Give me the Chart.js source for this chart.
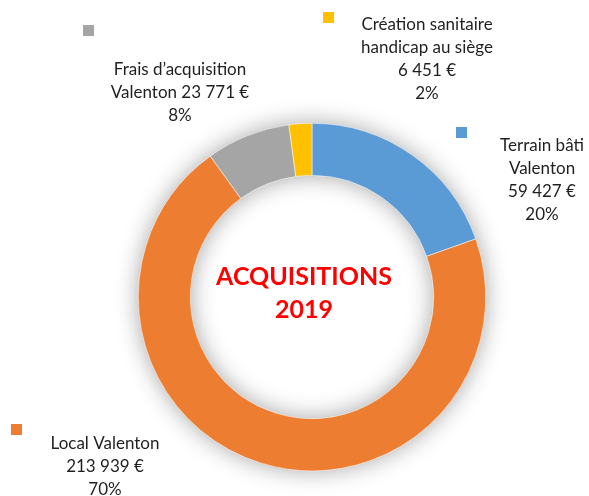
<!DOCTYPE html>
<html>
<head>
<meta charset="utf-8">
<script src="https://cdn.jsdelivr.net/npm/chart.js@4.4.1/dist/chart.umd.min.js"></script>
<style>
  html, body { margin: 0; padding: 0; background: #fff; }
  #wrap { width: 589px; height: 496px; }
</style>
</head>
<body>
<div id="wrap"><canvas id="grafico" width="589" height="496"></canvas></div>
<script>
// donnees
const categories = ['Terrain bâti Valenton', 'Local Valenton', 'Frais d’acquisition Valenton', 'Création sanitaire handicap au siège'];
const valeurs = [59427, 213939, 23771, 6451];
const couleurs = ['#5B9BD5', '#ED7D31', '#A5A5A5', '#FFC000'];
const titreCentre = ['ACQUISITIONS', '2019'];

// mise en page des etiquettes (decalage depuis le centre du donut)
const largeurMax = [90, 140, 145, 150];
const decalEtiquette = [[230, -151], [-207, 147], [-132, -227], [115, -272]];
const decalCarre = [[-86, -19], [-94, -20], [-97, -45], [-104, -13]];

const police = '"Lato", "Carlito", sans-serif';

function formatEuro(v) {
  // espace insecable pour garder le montant sur une ligne
  return String(v).replace(/\B(?=(\d{3})+(?!\d))/g, '\u00a0') + '\u00a0€';
}

function decoupe(ctx, texte, largeur) {
  let mots = texte.split(' ');
  let lignes = [];
  let courant = '';
  for (let m of mots) {
    let essai = courant ? courant + ' ' + m : m;
    if (courant && ctx.measureText(essai).width > largeur) {
      lignes.push(courant);
      courant = m;
    } else {
      courant = essai;
    }
  }
  if (courant) lignes.push(courant);
  return lignes;
}

const ombre = {
  id: 'ombre',
  beforeDatasetsDraw(chart) {
    let arc = chart.getDatasetMeta(0).data[0];
    if (!arc) return;
    let ctx = chart.ctx;
    ctx.save();
    ctx.shadowColor = 'rgba(0,0,0,0.38)';
    ctx.shadowBlur = 24;
    ctx.fillStyle = '#ffffff';
    ctx.beginPath();
    ctx.arc(arc.x, arc.y, arc.outerRadius - 1, 0, Math.PI * 2);
    ctx.arc(arc.x, arc.y, arc.innerRadius + 1, 0, Math.PI * 2, true);
    ctx.fill();
    ctx.restore();
  }
};

const etiquettes = {
  id: 'etiquettes',
  afterDatasetsDraw(chart) {
    let ctx = chart.ctx;
    let meta = chart.getDatasetMeta(0);
    let cx = meta.data[0].x;
    let cy = meta.data[0].y;
    let total = valeurs.reduce((a, b) => a + b, 0);
    ctx.save();
    ctx.font = '17px ' + police;
    ctx.fillStyle = '#1f1f1f';
    ctx.textAlign = 'center';
    ctx.textBaseline = 'middle';
    for (let i = 0; i < valeurs.length; i++) {
      let texte = categories[i] + ' ' + formatEuro(valeurs[i]);
      let lignes = decoupe(ctx, texte, largeurMax[i]);
      lignes.push(Math.round(valeurs[i] / total * 100) + '%');
      let x = cx + decalEtiquette[i][0];
      let y = cy + decalEtiquette[i][1];
      lignes.forEach((l, k) => ctx.fillText(l, x, y + k * 23));
      ctx.fillStyle = couleurs[i];
      ctx.fillRect(x + decalCarre[i][0], y + decalCarre[i][1], 11, 11);
      ctx.fillStyle = '#1f1f1f';
    }
    // titre au centre
    ctx.font = 'bold 25px ' + police;
    ctx.fillStyle = '#FF0000';
    ctx.fillText(titreCentre[0], cx - 8, cy - 20);
    ctx.fillText(titreCentre[1], cx - 8, cy + 13);
    ctx.restore();
  }
};

new Chart(document.getElementById('grafico'), {
  type: 'doughnut',
  data: {
    labels: categories,
    datasets: [{
      data: valeurs,
      backgroundColor: couleurs,
      borderColor: '#ffffff',
      borderWidth: 0.5
    }]
  },
  options: {
    responsive: false,
    animation: false,
    cutout: '70%',
    layout: { padding: { top: 123, bottom: 25, left: 35, right: 0 } },
    plugins: {
      legend: { display: false },
      tooltip: { enabled: false }
    }
  },
  plugins: [ombre, etiquettes]
});
</script>
</body>
</html>
